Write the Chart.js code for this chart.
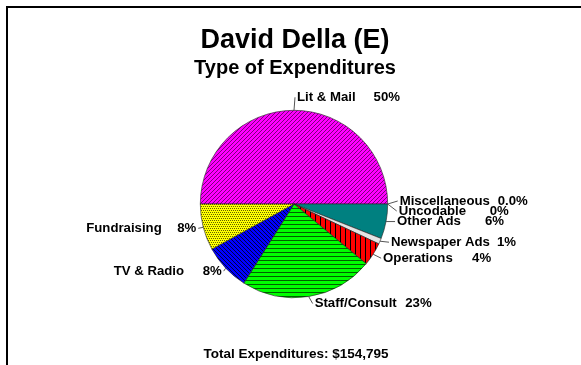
<!DOCTYPE html>
<html>
<head>
<meta charset="utf-8">
<script src="https://cdn.jsdelivr.net/npm/chart.js@4.4.1/dist/chart.umd.min.js"></script>
<style>
  html, body { margin: 0; padding: 0; background: #fff; }
  #wrap { width: 581px; height: 365px; position: relative; }
</style>
</head>
<body>
<div id="wrap"><canvas id="c" width="581" height="365"></canvas></div>
<script>
// ---- data ----
const titleText = "David Della (E)";
const subtitleText = "Type of Expenditures";
const footerText = "Total Expenditures: $154,795";
const categories = ["Lit & Mail", "Miscellaneous", "Uncodable", "Other Ads", "Newspaper Ads", "Operations", "Staff/Consult", "TV & Radio", "Fundraising"];
const shares = [50, 0, 0, 6, 1, 4, 23, 8, 8];
const shareLabels = ["50%", "0.0%", "0%", "6%", "1%", "4%", "23%", "8%", "8%"];

// ---- label layout (offset from slice edge midpoint, alignment, text span) ----
const labelLayout = [
  { dx: 3, dy: -13, align: "left", span: 103 },
  { dx: 12, dy: -3, align: "left", span: 128 },
  { dx: 11, dy: 7, align: "left", span: 110 },
  { dx: 11, dy: 0, align: "left", span: 107 },
  { dx: 11, dy: 1, align: "left", span: 125 },
  { dx: 10, dy: 4, align: "left", span: 108 },
  { dx: 6, dy: 7, align: "left", span: 117 },
  { dx: -4, dy: 3, align: "right", span: 108 },
  { dx: -7, dy: 1, align: "right", span: 110 }
];

// ---- patterns ----
function makePattern(bg, fg, size, drawFn) {
  const c = document.createElement("canvas");
  c.width = size; c.height = size;
  const x = c.getContext("2d");
  x.fillStyle = bg; x.fillRect(0, 0, size, size);
  x.fillStyle = fg;
  drawFn(x, size);
  return document.getElementById("c").getContext("2d").createPattern(c, "repeat");
}
const diagUp = (x, s) => { for (let i = 0; i < s; i++) { x.fillRect(i, s - 1 - i, 1, 1); } };
const diagDown = (x, s) => { for (let i = 0; i < s; i++) { x.fillRect(i, i, 1, 1); } };
const horiz = (x, s) => { x.fillRect(0, 0, s, 1); };
const vert = (x, s) => { x.fillRect(0, 0, 1, s); };
const dots = (x, s) => { x.fillRect(0, 0, 1, 1); x.fillRect(2, 0, 1, 1); x.fillRect(1, 2, 1, 1); x.fillRect(3, 2, 1, 1); };

const fills = [
  makePattern("#FF00FF", "#7a007a", 4, diagUp),
  "#808080",
  "#808080",
  "#008080",
  "#E4E4E4",
  makePattern("#FF0000", "#000000", 5, vert),
  makePattern("#00FF00", "#006000", 4, horiz),
  makePattern("#0000FF", "#000040", 4, diagDown),
  makePattern("#FFFF00", "#606000", 4, dots)
];

const FONT = "Arial, 'Liberation Sans', sans-serif";

const decorPlugin = {
  id: "decor",
  beforeDraw(chart) {
    const ctx = chart.ctx;
    ctx.save();
    ctx.fillStyle = "#fff";
    ctx.fillRect(0, 0, chart.width, chart.height);
    ctx.strokeStyle = "#000";
    ctx.lineWidth = 2;
    ctx.beginPath();
    ctx.moveTo(7, chart.height);
    ctx.lineTo(7, 7);
    ctx.lineTo(chart.width, 7);
    ctx.stroke();
    ctx.fillStyle = "#000";
    ctx.textAlign = "center";
    ctx.textBaseline = "middle";
    ctx.font = "bold 27px " + FONT;
    ctx.fillText(titleText, 295, 41);
    ctx.font = "bold 20px " + FONT;
    ctx.fillText(subtitleText, 295, 68);
    ctx.font = "bold 13.5px " + FONT;
    ctx.fillText(footerText, 296, 354);
    ctx.restore();
  },
  afterDatasetsDraw(chart) {
    const ctx = chart.ctx;
    const arcs = chart.getDatasetMeta(0).data;
    ctx.save();
    ctx.font = "bold 13.2px " + FONT;
    ctx.textBaseline = "middle";
    ctx.fillStyle = "#000";
    ctx.strokeStyle = "#555";
    ctx.lineWidth = 1;
    arcs.forEach((arc, i) => {
      const p = arc.getProps(["x", "y", "startAngle", "endAngle", "outerRadius"], true);
      const mid = (p.startAngle + p.endAngle) / 2;
      const ax = p.x + Math.cos(mid) * p.outerRadius;
      const ay = p.y + Math.sin(mid) * p.outerRadius;
      const L = labelLayout[i];
      const tx = ax + L.dx, ty = ay + L.dy;
      const dir = L.align === "left" ? 1 : -1;
      ctx.beginPath();
      ctx.moveTo(ax, ay);
      ctx.lineTo(tx - 2 * dir, ty);
      ctx.stroke();
      const nameStart = L.align === "left" ? tx : tx - L.span;
      const pctEnd = nameStart + L.span;
      ctx.textAlign = "left";
      ctx.fillText(categories[i], nameStart, ty);
      ctx.textAlign = "right";
      ctx.fillText(shareLabels[i], pctEnd, ty);
    });
    ctx.restore();
  }
};

new Chart(document.getElementById("c"), {
  type: "pie",
  data: {
    labels: categories,
    datasets: [{
      data: shares,
      backgroundColor: fills,
      borderColor: "#222",
      borderWidth: 0.6
    }]
  },
  options: {
    responsive: false,
    animation: false,
    rotation: -90,
    layout: { padding: { left: 200, right: 193, top: 110, bottom: 67 } },
    plugins: {
      legend: { display: false },
      tooltip: { enabled: false },
      title: { display: false }
    },
    events: []
  },
  plugins: [decorPlugin]
});
</script>
</body>
</html>
